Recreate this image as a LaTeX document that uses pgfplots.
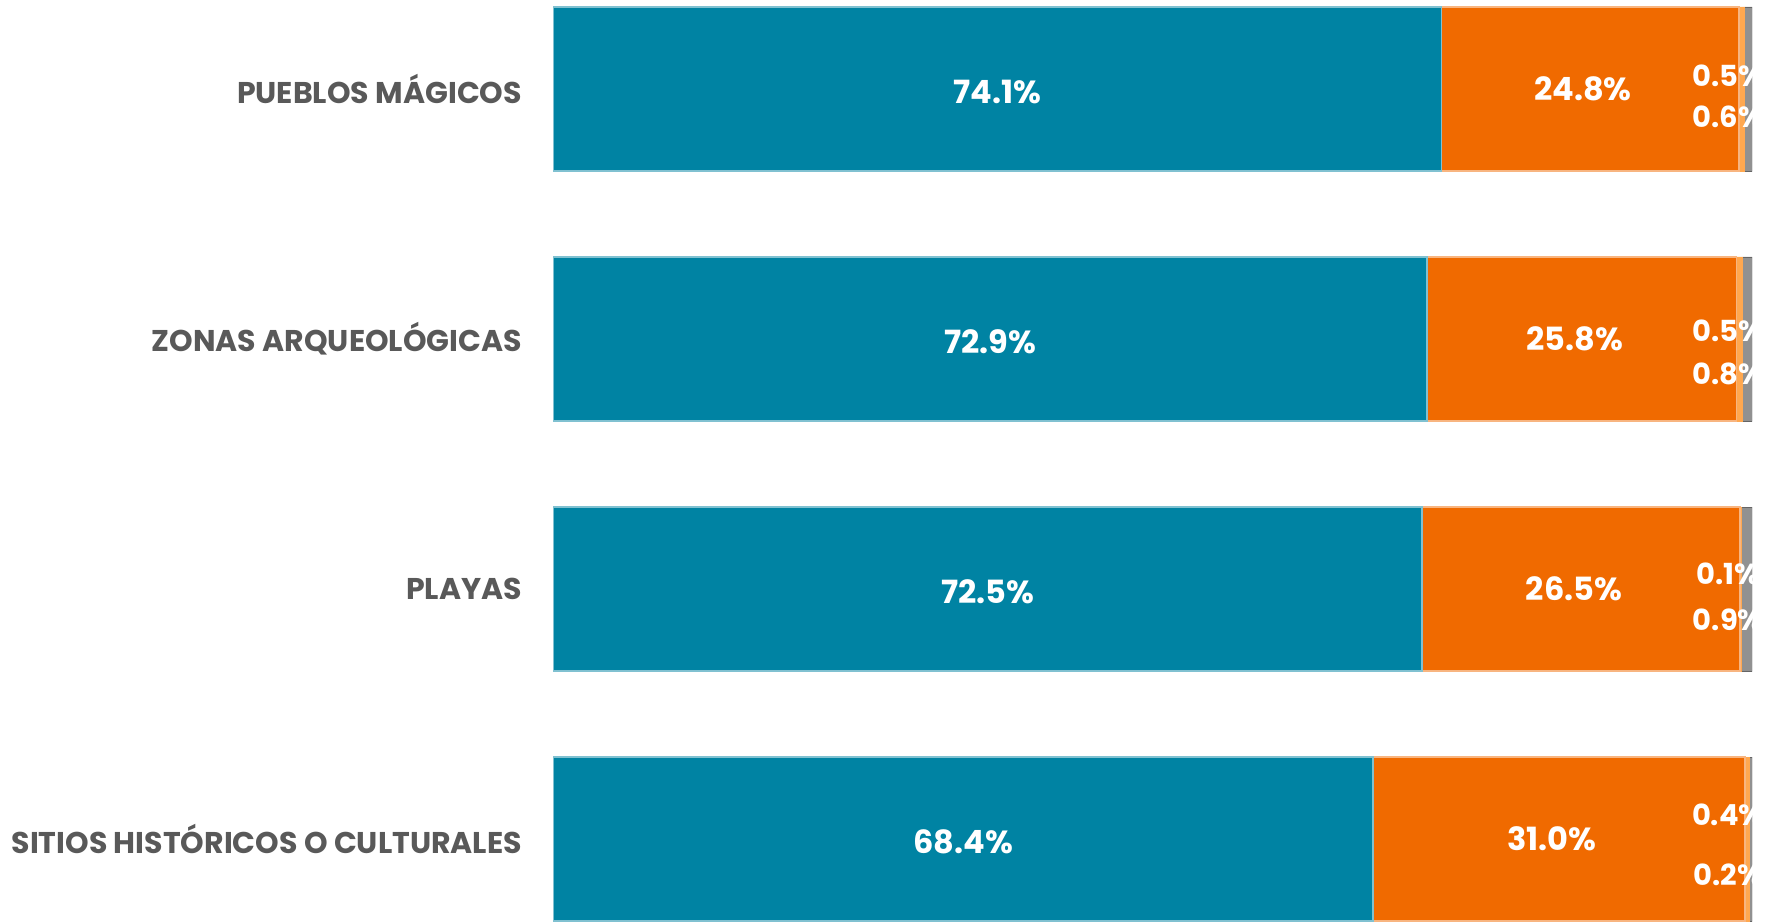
\documentclass[border=0pt]{standalone}
\usepackage{pgfplots}
\usepackage{pgfplotstable}
\pgfplotsset{compat=1.18}
\usepackage{fontspec}
\setmainfont{Poppins}
\definecolor{teal1}{RGB}{0,131,163}
\definecolor{orange1}{RGB}{240,106,0}
\definecolor{lorange}{RGB}{255,168,80}
\definecolor{gray1}{RGB}{145,145,145}
\definecolor{txtgray}{RGB}{89,89,89}
\pgfplotstableread{
y a b c d cdy ddy
3 74.1 24.8 0.5 0.6 0.054 -0.113
2 72.9 25.8 0.5 0.8 0.032 -0.140
1 72.5 26.5 0.1 0.9 0.059 -0.122
0 68.4 31.0 0.4 0.2 0.095 -0.145
}\data
\pgfplotsset{
  common/.style={at={(276.5pt,0pt)}, anchor=south west, scale only axis,
    width=599.5pt, height=461pt, xmin=0, xmax=100, ymin=-0.332, ymax=3.356},
  lab/.style={draw=none, mark=none, nodes near coords={\pgfmathprintnumber[fixed,fixed zerofill,precision=1,assume math mode=true]{\pgfplotspointmeta}\%},
    point meta=explicit,
    nodes near coords style={text=white, anchor=center, font=\bfseries\fontsize{16}{18}\selectfont}},
  slab/.style={lab, nodes near coords style={font=\bfseries\fontsize{14.5}{16}\selectfont}},
}
\begin{document}
\begin{tikzpicture}
\begin{axis}[common, xbar stacked, bar width=0.656,
  axis line style={draw=none}, xtick=\empty, ytick={0,1,2,3},
  yticklabels={SITIOS HISTÓRICOS O CULTURALES, PLAYAS, ZONAS ARQUEOLÓGICAS, PUEBLOS MÁGICOS},
  major tick length=0pt,
  yticklabel style={text=txtgray, font=\bfseries\fontsize{15}{17}\selectfont, xshift=-12pt}]
\addplot[fill=teal1, draw=teal1!50!white, line width=0.8pt] table[x=a, y=y] {\data};
\addplot[fill=orange1, draw=orange1!50!white, line width=0.8pt] table[x=b, y=y] {\data};
\addplot[fill=lorange, draw=lorange, line width=0.4pt] table[x=c, y=y] {\data};
\addplot[fill=gray1, draw=gray1!70!black, line width=0.4pt] table[x=d, y=y] {\data};
\end{axis}
\begin{axis}[common, hide axis]
\addplot[lab] table[x expr=\thisrow{a}/2, y expr=\thisrow{y}-0.012, meta=a] {\data};
\addplot[lab] table[x expr=\thisrow{a}+\thisrow{b}/2-0.6, y=y, meta=b] {\data};
\addplot[slab] table[x expr=98.0, y expr=\thisrow{y}+\thisrow{cdy}, meta=c] {\data};
\addplot[slab] table[x expr=98.0, y expr=\thisrow{y}+\thisrow{ddy}, meta=d] {\data};
\end{axis}
\pgfresetboundingbox
\useasboundingbox (0,0) rectangle (885.5pt,461pt);
\end{tikzpicture}
\end{document}
